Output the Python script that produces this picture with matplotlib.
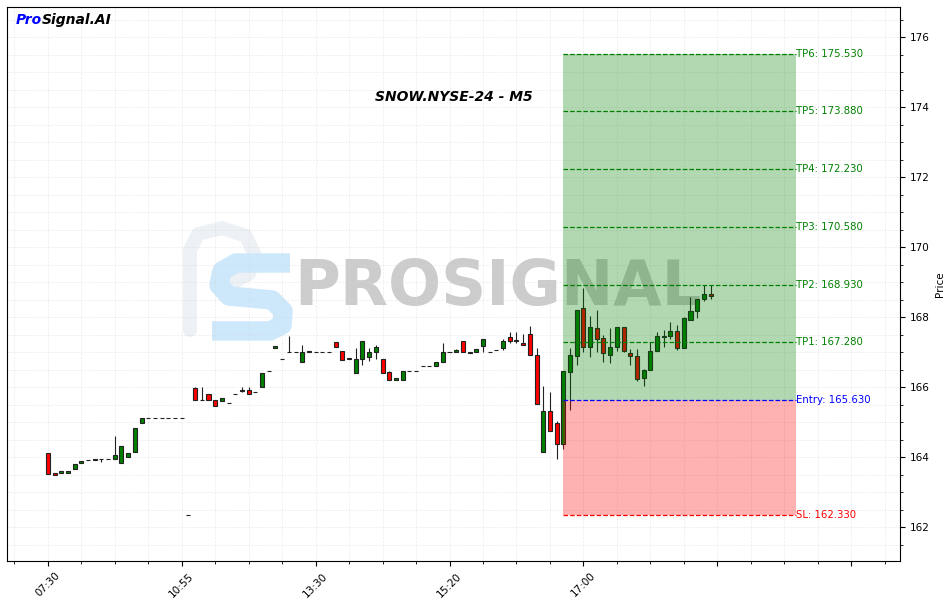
import matplotlib
matplotlib.use("Agg")
import matplotlib.pyplot as plt
from matplotlib.patches import Rectangle
from matplotlib.ticker import MultipleLocator

# ---- data ----
opens = [164.11, 163.53, 163.53, 163.53, 163.67, 163.82, 163.91, 163.91, 163.93, 163.93,
         163.93, 163.82, 163.99, 164.13, 164.96, 165.11, 165.11, 165.11, 165.11, 165.11,
         165.11, 162.34, 165.96, 165.63, 165.79, 165.62, 165.61, 165.54, 165.80, 165.89,
         165.91, 165.86, 166.01, 166.45, 167.11, 166.79, 166.99, 166.99, 166.72, 167.03,
         166.99, 166.99, 166.99, 167.28, 167.02, 166.79, 166.39, 166.79, 166.85, 166.99,
         166.79, 166.42, 166.19, 166.19, 166.45, 166.45, 166.59, 166.59, 166.59, 166.71,
         166.99, 166.99, 167.31, 166.99, 166.99, 167.16, 166.99, 167.05, 167.11, 167.42,
         167.31, 167.25, 167.53, 166.91, 164.13, 165.31, 164.96, 164.36, 166.44, 166.88,
         168.25, 167.13, 167.68, 167.39, 166.91, 167.13, 167.73, 166.96, 166.88, 166.25,
         166.48, 167.02, 167.43, 167.45, 167.59, 167.11, 167.93, 168.16, 168.53, 168.65]
highs = [164.11, 163.53, 163.59, 163.59, 163.79, 163.89, 163.91, 163.93, 163.93, 163.93,
         164.60, 164.31, 164.11, 164.82, 165.11, 165.11, 165.11, 165.11, 165.11, 165.11,
         165.11, 162.34, 165.99, 165.99, 165.79, 165.62, 165.68, 165.54, 165.80, 165.99,
         165.99, 165.86, 166.39, 166.45, 167.16, 166.79, 167.46, 166.99, 167.19, 167.03,
         166.99, 166.99, 166.99, 167.28, 167.02, 166.82, 167.11, 167.31, 167.11, 167.19,
         166.79, 166.45, 166.25, 166.45, 166.45, 166.45, 166.59, 166.59, 166.71, 167.25,
         166.99, 167.08, 167.31, 166.99, 167.08, 167.36, 166.99, 167.05, 167.36, 167.56,
         167.56, 167.51, 167.74, 167.11, 166.04, 165.85, 165.03, 166.46, 167.12, 168.19,
         168.84, 168.04, 168.19, 167.48, 167.68, 167.73, 167.73, 167.09, 167.09, 166.51,
         167.29, 167.56, 167.62, 167.85, 167.76, 168.00, 168.56, 168.53, 168.91, 168.91]
lows = [163.51, 163.50, 163.53, 163.53, 163.67, 163.82, 163.91, 163.91, 163.87, 163.93,
        163.93, 163.82, 163.99, 164.13, 164.96, 165.11, 165.11, 165.11, 165.11, 165.11,
        165.11, 162.34, 165.62, 165.62, 165.62, 165.45, 165.61, 165.54, 165.80, 165.85,
        165.79, 165.86, 166.01, 166.45, 167.11, 166.79, 166.99, 166.99, 166.72, 166.99,
        166.99, 166.99, 166.99, 167.13, 166.78, 166.79, 166.39, 166.62, 166.75, 166.79,
        166.39, 166.19, 166.19, 166.19, 166.45, 166.45, 166.59, 166.59, 166.59, 166.71,
        166.99, 166.99, 166.99, 166.96, 166.99, 166.99, 166.99, 167.05, 167.05, 167.25,
        167.25, 167.19, 166.91, 165.51, 164.13, 164.73, 163.93, 164.23, 165.34, 166.63,
        167.00, 166.86, 167.00, 166.71, 166.68, 167.02, 167.00, 166.63, 166.17, 166.04,
        166.48, 167.02, 167.13, 167.37, 167.05, 167.11, 167.93, 167.96, 168.47, 168.53]
closes = [163.51, 163.50, 163.59, 163.59, 163.79, 163.89, 163.91, 163.93, 163.93, 163.93,
          164.05, 164.31, 164.11, 164.82, 165.11, 165.11, 165.11, 165.11, 165.11, 165.11,
          165.11, 162.34, 165.62, 165.62, 165.62, 165.45, 165.68, 165.54, 165.80, 165.91,
          165.79, 165.86, 166.39, 166.45, 167.16, 166.79, 166.99, 166.99, 166.99, 166.99,
          166.99, 166.99, 166.99, 167.13, 166.78, 166.82, 166.79, 167.31, 166.99, 167.13,
          166.39, 166.19, 166.25, 166.45, 166.45, 166.45, 166.59, 166.59, 166.71, 166.99,
          166.99, 167.05, 166.99, 166.96, 167.08, 167.36, 166.99, 167.05, 167.31, 167.33,
          167.34, 167.19, 166.91, 165.51, 165.31, 164.73, 164.36, 166.46, 166.91, 168.19,
          167.13, 167.71, 167.36, 166.96, 167.13, 167.73, 167.02, 166.88, 166.22, 166.48,
          167.02, 167.45, 167.46, 167.59, 167.11, 167.96, 168.16, 168.53, 168.65, 168.59]

tick_pos = [0, 20, 40, 60, 80, 100, 120]
tick_labels = ["07:30", "10:55", "13:30", "15:20", "17:00", "", ""]

entry = 165.63
stop_loss = 162.33
targets = [167.28, 168.93, 170.58, 172.23, 173.88, 175.53]
box_start = 77
box_end = 111.7

symbol = "SNOW.NYSE-24 - M5"

# ---- figure ----
fig = plt.figure(figsize=(9.47, 6.03), dpi=100)
ax = fig.add_axes([0.0074, 0.0697, 0.943, 0.9187])


def px(x, y):
    # pixel spot of the reference -> axes fraction (watermark only)
    return (x - 7) / 893, (561 - y) / 554


# watermark logo (faint P outline + light blue S)
p_pts = [px(190, 330), px(190, 250), px(198, 234), px(222, 228), px(246, 236),
         px(255, 256), px(249, 274), px(232, 283)]
ax.plot([p[0] for p in p_pts], [p[1] for p in p_pts], transform=ax.transAxes,
        color="#edf1f5", linewidth=10, solid_joinstyle="round", solid_capstyle="round", zorder=0)
s_pts = [px(290, 263), px(236, 263), px(222, 271), px(219, 285), px(229, 296),
         px(272, 300), px(283, 311), px(282, 325), px(270, 331), px(212, 331)]
ax.plot([p[0] for p in s_pts], [p[1] for p in s_pts], transform=ax.transAxes,
        color="#cde8fb", linewidth=14, solid_joinstyle="round", solid_capstyle="butt", zorder=0.1)
ax.text(0.550, 0.493, "PROSIGNAL", transform=ax.transAxes, fontsize=45, fontweight="bold",
        color="#9a9a9a", alpha=0.5, ha="center", va="center", zorder=0.2)

# candles
w = 0.6
for i in range(len(opens)):
    o, h, l, c = opens[i], highs[i], lows[i], closes[i]
    col = "green" if c >= o else "red"
    ax.vlines(i, l, h, color="#222222", linewidth=0.8, zorder=2)
    ax.add_patch(Rectangle((i - w / 2, min(o, c)), w, abs(c - o), facecolor=col,
                           edgecolor="#222222", linewidth=0.8, zorder=3))

# trade boxes
ax.add_patch(Rectangle((box_start, entry), box_end - box_start, targets[-1] - entry,
                       facecolor="green", alpha=0.3, linewidth=0, zorder=4))
ax.add_patch(Rectangle((box_start, stop_loss), box_end - box_start, entry - stop_loss,
                       facecolor="red", alpha=0.3, linewidth=0, zorder=4))

for k, tp in enumerate(targets):
    ax.hlines(tp, box_start, box_end, colors="green", linestyles="--", linewidth=0.9, zorder=5)
    ax.text(box_end, tp, f"TP{k + 1}: {tp:.3f}", color="green", fontsize=7.3,
            va="center", ha="left", zorder=6)
ax.hlines(entry, box_start, box_end, colors="blue", linestyles="--", linewidth=0.9, zorder=5)
ax.text(box_end, entry, f"Entry: {entry:.3f}", color="blue", fontsize=7.3,
        va="center", ha="left", zorder=6)
ax.hlines(stop_loss, box_start, box_end, colors="red", linestyles="--", linewidth=0.9, zorder=5)
ax.text(box_end, stop_loss, f"SL: {stop_loss:.3f}", color="red", fontsize=7.3,
        va="center", ha="left", zorder=6)

# axes styling
ax.set_xlim(-6.1, 127.3)
ax.set_ylim(161.03, 176.86)
ax.yaxis.tick_right()
ax.yaxis.set_label_position("right")
ax.set_ylabel("Price", fontsize=7.5)
ax.yaxis.set_major_locator(MultipleLocator(2))
ax.yaxis.set_minor_locator(MultipleLocator(0.5))
ax.set_xticks(tick_pos)
ax.set_xticklabels(tick_labels, rotation=45, fontsize=7.5)
ax.xaxis.set_minor_locator(MultipleLocator(5))
ax.tick_params(axis="y", labelsize=7.5)
ax.grid(True, which="both", linestyle="--", color="#d8d8d8", linewidth=0.5, alpha=0.5)
ax.set_axisbelow(True)

ax.text(0.5, 0.837, symbol, transform=ax.transAxes, fontsize=10, fontweight="bold",
        fontstyle="italic", ha="center", va="center")

t = ax.text(0.01, 0.976, "Pro", transform=ax.transAxes, fontsize=10, fontweight="bold",
            fontstyle="italic", color="blue", ha="left", va="center")
ax.annotate("Signal.AI", xycoords=t, xy=(1, 0.5), fontsize=10, fontweight="bold",
            fontstyle="italic", color="black", ha="left", va="center")

fig.savefig("out.png", dpi=100)
